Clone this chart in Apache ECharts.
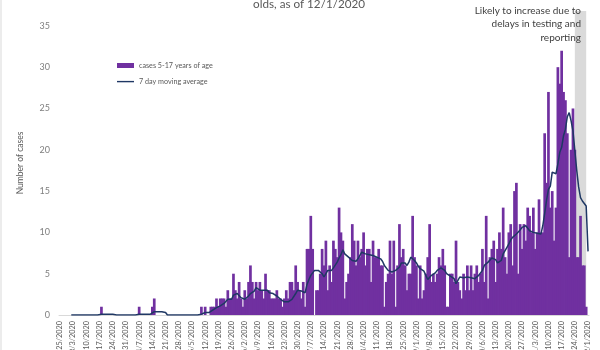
<!DOCTYPE html>
<html><head><meta charset="utf-8">
<script src="https://cdn.jsdelivr.net/npm/echarts@6/dist/echarts.min.js"></script>
<style>html,body{margin:0;padding:0;background:#fff}#c{width:600px;height:350px}</style>
</head><body><div id="c"></div>
<script>
// Categories: daily dates from 2/25/2020 to 12/1/2020
const firstDay = { year: 2020, month: 2, day: 25 };
const dayCount = 281;
const categories = [];
for (let i = 0; i < dayCount; i++) {
  const d = new Date(Date.UTC(firstDay.year, firstDay.month - 1, firstDay.day + i));
  categories.push((d.getUTCMonth() + 1) + '/' + d.getUTCDate() + '/' + d.getUTCFullYear());
}

// Daily cases, ages 5-17 (one row per week starting 2/25)
const dailyCases = [
  0,0,0,0,0,0,0,
  0,0,0,0,0,0,0,
  0,0,0,0,0,0,0,
  0,1,0,0,0,0,0,
  0,0,0,0,0,0,0,
  0,0,0,0,0,0,0,
  1,0,0,0,0,0,0,
  1,2,0,0,0,0,0,
  0,0,0,0,0,0,0,
  0,0,0,0,0,0,0,
  0,0,0,0,0,1,0,
  1,0,0,1,1,1,2,
  1,2,2,2,1,3,2,
  2,5,3,2,4,2,1,
  3,2,4,6,4,2,4,
  3,4,3,2,5,3,3,
  2,2,2,3,2,2,1,
  2,3,2,4,4,3,6,
  4,3,2,4,1,8,8,
  12,8,0,3,3,5,8,
  6,9,3,6,4,9,8,
  7,13,10,9,2,4,5,
  7,11,9,6,9,7,8,
  10,6,8,8,4,9,7,
  7,8,6,6,1,4,5,
  9,5,9,1,6,11,7,
  8,6,3,5,5,12,7,
  6,2,6,2,3,5,7,
  11,4,5,4,5,7,6,
  8,6,1,1,5,5,4,
  9,4,3,2,5,3,6,
  3,6,3,5,6,4,5,
  8,4,12,2,7,8,9,
  4,8,10,8,13,7,5,
  10,11,6,15,16,5,11,
  8,11,9,13,12,10,13,
  8,10,14,10,10,22,16,
  27,13,15,9,13,30,28,
  32,27,26,22,7,20,25,
  20,7,7,12,6,6,1,
  0
];

// 7 day moving average
const movingAverage = [
  null,null,null,null,null,null,0,
  0,0,0,0,0,0,0,
  0,0,0,0,0,0,0,
  0,0.1,0.1,0.1,0.1,0.1,0.1,
  0.1,0,0,0,0,0,0,
  0,0,0,0,0,0,0,
  0.1,0.1,0.1,0.1,0.1,0.1,0.1,
  0.1,0.4,0.4,0.4,0.4,0.4,0.4,
  0.3,0,0,0,0,0,0,
  0,0,0,0,0,0,0,
  0,0,0,0,0,0.1,0.1,
  0.3,0.3,0.3,0.4,0.6,0.6,0.9,
  0.9,1.1,1.3,1.4,1.6,1.9,1.9,
  1.9,2.4,2.6,2.6,2.6,2.1,2.0,
  1.9,1.9,2.3,2.6,2.6,2.9,3.3,
  3.4,3.0,2.9,3.0,2.9,3.0,2.7,
  2.7,2.6,2.4,2.3,2.2,1.9,1.7,
  1.6,1.7,1.6,1.8,1.9,1.8,2.6,
  3.0,3.0,2.9,2.8,2.7,3.7,4.3,
  4.8,5.0,5.4,5.2,5.4,5.2,5.0,
  4.6,5.0,5.4,5.6,5.4,5.7,5.8,
  6.4,6.9,7.3,7.9,7.4,7.2,7.0,
  6.8,6.6,6.4,6.5,6.8,7.0,7.6,
  7.8,7.4,7.2,7.3,7.1,7.2,7.1,
  7.0,6.9,6.8,6.5,6.0,5.8,5.4,
  5.2,5.2,5.3,5.4,5.6,5.8,6.3,
  6.4,6.3,6.0,6.4,7.0,6.9,6.6,
  6.3,5.9,5.6,5.5,5.3,4.8,4.3,
  4.5,4.8,4.9,5.1,5.4,5.5,5.7,
  5.8,5.4,5.0,4.9,4.7,4.7,4.4,
  3.8,4.2,4.6,4.6,4.5,4.6,4.6,
  4.5,4.5,4.4,4.4,4.6,4.8,5.0,
  5.4,6.0,6.0,6.4,6.6,6.9,7.0,
  6.7,6.3,6.2,6.6,7.4,7.8,8.2,
  8.6,9.1,9.4,9.6,9.8,9.9,10.3,
  10.6,10.7,10.8,10.6,10.2,10.1,10.0,
  9.9,9.9,9.8,9.8,10.8,12.3,13.9,
  15.2,15.6,17.3,17.4,17.1,18.3,19.7,
  20.3,21.7,22.5,24.0,24.5,23.5,22.3,
  19.9,17.5,15.5,14.2,13.8,13.5,13.2,
  7.7
];

const seriesNames = ['cases 5-17 years of age', '7 day moving average'];
const shadeRange = ['11/24/2020', '11/30/2020'];
const yTickValues = [0, 5, 10, 15, 20, 25, 30, 35];
const titleText = 'olds, as of 12/1/2020';
const noteText = 'Likely to increase due to\ndelays in testing and\nreporting';

const chart = echarts.init(document.getElementById('c'));
chart.setOption({
  animation: false,
  backgroundColor: '#ffffff',
  textStyle: { fontFamily: 'Lato' },
  title: {
    text: titleText, left: 248, top: -7,
    textStyle: { fontSize: 11.7, color: '#595959', fontWeight: 'normal', fontFamily: 'Lato' }
  },
  legend: {
    orient: 'vertical', left: 112, top: 57, itemWidth: 17, itemHeight: 5, itemGap: 9,
    textStyle: { fontSize: 7.2, color: '#595959', fontFamily: 'Lato' },
    data: [
      { name: seriesNames[0], icon: 'rect' },
      { name: seriesNames[1], icon: 'path://M0,0 M0,1.9 L17,1.9 L17,3.3 L0,3.3 Z M17,5', itemStyle: { color: '#1F3864' } }
    ]
  },
  grid: { left: 59, right: 11, top: 11, bottom: 35, containLabel: false, outerBoundsMode: 'none' },
  xAxis: {
    type: 'category', data: categories,
    axisLine: { lineStyle: { color: '#d9d9d9', width: 1 } },
    axisTick: { show: false },
    axisLabel: { interval: 6, rotate: 90, fontSize: 7.3, color: '#595959', margin: 6, fontFamily: 'Lato' }
  },
  yAxis: {
    type: 'value', min: yTickValues[0], max: 36.8, interval: 5,
    splitLine: { show: false }, axisLine: { show: false }, axisTick: { show: false },
    axisLabel: { showMaxLabel: false, fontSize: 9, color: '#7f7f7f', margin: 9, fontFamily: 'Lato' },
    name: 'Number of cases', nameLocation: 'middle', nameGap: 34, nameRotate: 90,
    nameTextStyle: { fontSize: 8.5, color: '#595959', fontFamily: 'Lato' }
  },
  series: [
    { name: seriesNames[0], type: 'bar', data: dailyCases, barWidth: 2.7,
      itemStyle: { color: '#7030A0' }, z: 2 },
    { type: 'line', data: [], z: 3, silent: true,
      markArea: { silent: true, itemStyle: { color: 'rgba(170,170,170,0.44)' },
        data: [[{ xAxis: shadeRange[0] }, { xAxis: shadeRange[1] }]] } },
    { name: seriesNames[1], type: 'line', data: movingAverage, symbol: 'none', showSymbol: false,
      lineStyle: { color: '#1F3864', width: 1.5 }, itemStyle: { color: '#1F3864' }, z: 4 }
  ],
  graphic: [
    { type: 'text', x: 581, y: 4, z: 10,
      style: { text: noteText, align: 'right', textAlign: 'right', verticalAlign: 'top',
        fontSize: 10, fontFamily: 'Lato', fill: '#404040', lineHeight: 13.5 } },
    { type: 'line', shape: { x1: 1, y1: 0, x2: 1, y2: 350 }, style: { stroke: '#d9d9d9', lineWidth: 1 } }
  ]
});
</script></body></html>
